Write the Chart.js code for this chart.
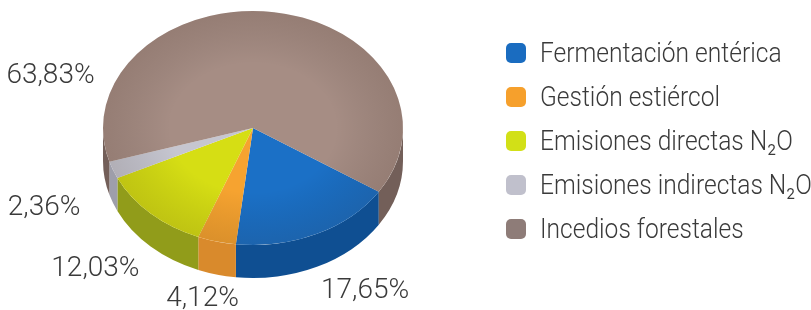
<!DOCTYPE html>
<html>
<head>
<meta charset="utf-8">
<script src="https://cdn.jsdelivr.net/npm/chart.js@4.4.1/dist/chart.umd.min.js"></script>
<style>
html, body { margin: 0; padding: 0; background: #fff; }
#wrap { position: relative; width: 811px; height: 310px; }
#legend { position: absolute; left: 506px; top: 31px; font-family: Roboto, sans-serif; font-weight: 300; color: #3a3a3a; }
.row { display: flex; align-items: center; height: 44px; white-space: nowrap; }
.sw { width: 20px; height: 20px; border-radius: 5px; flex: none; }
.tx { margin-left: 14px; font-size: 27px; transform: scaleX(0.91); transform-origin: left center; }
</style>
</head>
<body>
<div id="wrap">
  <canvas id="pie" width="811" height="310"></canvas>
  <div id="legend"></div>
</div>
<script>
const labels = ['Fermentación entérica', 'Gestión estiércol', 'Emisiones directas N₂O', 'Emisiones indirectas N₂O', 'Incedios forestales'];
const values = [17.65, 4.12, 12.03, 2.36, 63.83];
const topColors = ['#1b70c6', '#f6a330', '#d6de14', '#c6c6d0', '#a68d84'];
const sideColors = ['#0f4f92', '#d98a2c', '#919c1a', '#9e9eaa', '#735f59'];
const legendColors = ['#1a6cc0', '#f6a02c', '#d2e017', '#c0c0cc', '#8e7c78'];
// [angle shift in degrees, radius factor] for each percentage label
const labelPlacement = [[-3, 1.58], [-1, 1.5], [-2, 1.6], [-5, 1.55], [-80, 1.42]];

const TILT = 0.78;
const DEPTH = 33;
const CY = 128;

const fmt = v => v.toFixed(2).replace('.', ',') + '%';

const legendEl = document.getElementById('legend');
labels.forEach((l, i) => {
    const row = document.createElement('div');
    row.className = 'row';
    row.innerHTML = '<span class="sw" style="background:' + legendColors[i] + '"></span><span class="tx">' + l + '</span>';
    legendEl.appendChild(row);
});

const tilt3d = {
    id: 'tilt3d',
    beforeDatasetsDraw(chart) {
        const ctx = chart.ctx;
        const arcs = chart.getDatasetMeta(0).data;
        ctx.save();
        arcs.forEach((arc, i) => {
            const p = arc.getProps(['x', 'y', 'startAngle', 'endAngle', 'outerRadius']);
            const r = p.outerRadius;
            // front half of the wall is where sin > 0: [0, PI] and [2PI, 3PI]
            [[0, Math.PI], [2 * Math.PI, 3 * Math.PI]].forEach(([lo, hi]) => {
                const a = Math.max(p.startAngle, lo);
                const b = Math.min(p.endAngle, hi);
                if (b <= a) return;
                ctx.beginPath();
                ctx.ellipse(p.x, CY, r, r * TILT, 0, a, b);
                ctx.ellipse(p.x, CY + DEPTH, r, r * TILT, 0, b, a, true);
                ctx.closePath();
                ctx.fillStyle = sideColors[i];
                ctx.fill();
            });
        });
        ctx.restore();
        const y0 = arcs[0].y;
        ctx.save();
        ctx.translate(0, CY);
        ctx.scale(1, TILT);
        ctx.translate(0, -y0);
    },
    afterDatasetsDraw(chart) {
        const ctx = chart.ctx;
        ctx.restore();
        const arcs = chart.getDatasetMeta(0).data;
        const a0 = arcs[0];
        const r = a0.outerRadius;
        // soft rim shading on the top face
        ctx.save();
        ctx.translate(0, CY);
        ctx.scale(1, TILT);
        const g = ctx.createRadialGradient(a0.x, 0, 0, a0.x, 0, r);
        g.addColorStop(0.55, 'rgba(0,0,0,0)');
        g.addColorStop(1, 'rgba(40,20,10,0.13)');
        ctx.beginPath();
        ctx.arc(a0.x, 0, r, 0, Math.PI * 2);
        ctx.fillStyle = g;
        ctx.fill();
        ctx.restore();

        ctx.save();
        ctx.font = '300 28px Roboto, sans-serif';
        ctx.fillStyle = '#3a3a3a';
        ctx.textAlign = 'center';
        ctx.textBaseline = 'middle';
        arcs.forEach((arc, i) => {
            const [shift, k] = labelPlacement[i];
            const mid = (arc.startAngle + arc.endAngle) / 2 + shift * Math.PI / 180;
            const px = arc.x + k * r * Math.cos(mid);
            const py = CY + k * r * TILT * Math.sin(mid);
            ctx.fillText(fmt(values[i]), px, py);
        });
        ctx.restore();
    }
};

new Chart(document.getElementById('pie'), {
    type: 'pie',
    data: {
        labels: labels,
        datasets: [{
            data: values,
            backgroundColor: topColors,
            borderWidth: 0,
        }]
    },
    options: {
        responsive: false,
        animation: false,
        rotation: 123,
        layout: {
            padding: { left: 103, right: 408, top: 5, bottom: 5 }
        },
        plugins: {
            legend: { display: false },
            tooltip: { enabled: false }
        }
    },
    plugins: [tilt3d]
});
</script>
</body>
</html>
